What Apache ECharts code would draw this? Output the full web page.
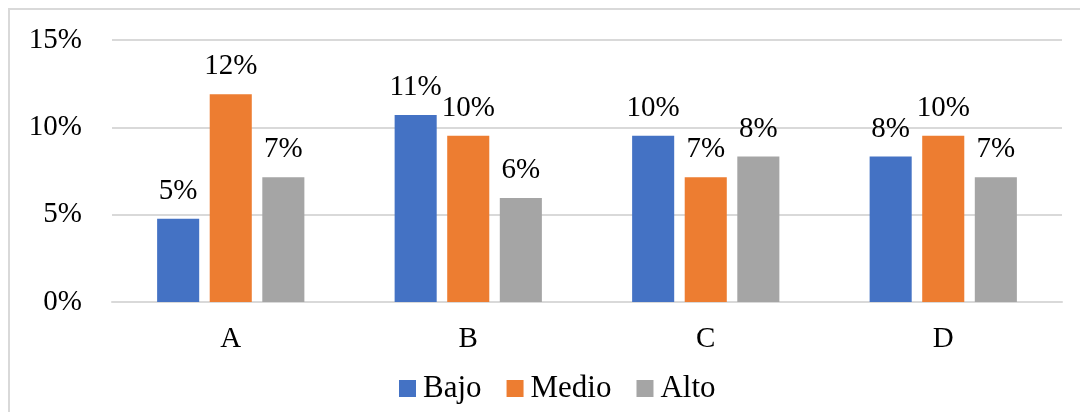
<!DOCTYPE html>
<html>
<head>
<meta charset="utf-8">
<script src="https://cdn.jsdelivr.net/npm/echarts@6/dist/echarts.min.js"></script>
<style>
  html, body { margin: 0; padding: 0; background: #fff; }
  #chart { width: 1080px; height: 412px; }
</style>
</head>
<body>
<div id="chart"></div>
<script>
// Category names and percentage values per group
const categories = ['A', 'B', 'C', 'D'];
const bajo  = [4.76, 10.71, 9.52, 8.33];
const medio = [11.90, 9.52, 7.14, 9.52];
const alto  = [7.14, 5.95, 8.33, 7.14];
const seriesNames = ['Bajo', 'Medio', 'Alto'];

const font = '"Liberation Serif", "Times New Roman", serif';
const colors = ['#4472C4', '#ED7D31', '#A5A5A5'];

function barSeries(name, data, color) {
  return {
    name: name,
    type: 'bar',
    data: data,
    itemStyle: { color: color },
    barGap: '25%',
    barCategoryGap: '38%',
    label: {
      show: true,
      position: 'top',
      distance: 13,
      color: '#000',
      fontFamily: font,
      fontSize: 29,
      formatter: p => Math.round(p.value) + '%'
    }
  };
}

const chart = echarts.init(document.getElementById('chart'));
chart.setOption({
  animation: false,
  color: colors,
  graphic: [{
    type: 'rect',
    silent: true,
    shape: { x: 9, y: 9, width: 1200, height: 500 },
    style: { fill: 'none', stroke: '#d9d9d9', lineWidth: 2 }
  }],
  grid: { left: 112, right: 18, top: 40, bottom: 110 },
  legend: {
    data: seriesNames,
    bottom: 3,
    left: 394,
    itemWidth: 17,
    itemHeight: 17,
    itemGap: 25,
    icon: 'rect',
    textStyle: { fontFamily: font, fontSize: 31, color: '#000', padding: [0, 0, 0, 2] }
  },
  xAxis: {
    type: 'category',
    data: categories,
    axisLine: { lineStyle: { color: '#d9d9d9', width: 2 } },
    axisTick: { show: false },
    axisLabel: { color: '#000', fontFamily: font, fontSize: 29, margin: 23 }
  },
  yAxis: {
    type: 'value',
    min: 0,
    max: 15,
    interval: 5,
    axisLine: { show: false },
    axisTick: { show: false },
    splitLine: { lineStyle: { color: '#d9d9d9', width: 2 } },
    axisLabel: { color: '#000', fontFamily: font, fontSize: 29, margin: 30, formatter: '{value}%' }
  },
  series: [
    barSeries(seriesNames[0], bajo, colors[0]),
    barSeries(seriesNames[1], medio, colors[1]),
    barSeries(seriesNames[2], alto, colors[2])
  ]
});
</script>
</body>
</html>
